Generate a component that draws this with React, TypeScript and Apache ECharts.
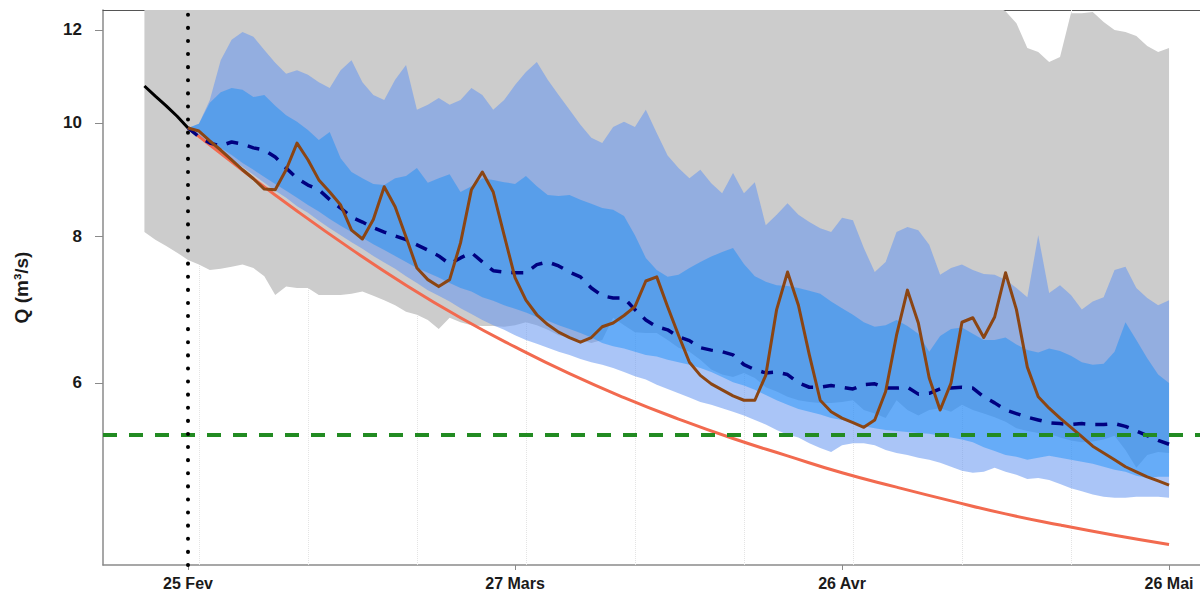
import { useEffect, useRef } from "react";
import * as echarts from "echarts";

// Day 0 = 25 Feb (start of the forecast). Flows in m3/s.
const OBS_DAYS = [-4, -3, -2, -1, 0];
const OBS_Q = [10.75, 10.54, 10.34, 10.13, 9.9];

const ENVELOPE_DAYS = Array.from({ length: 95 }, (_, i) => i - 4);
const FORECAST_DAYS = Array.from({ length: 91 }, (_, i) => i);
const RECESSION_DAYS = Array.from({ length: 19 }, (_, i) => i * 5);

// Historical min / max envelope (grey)
const ENV_LOW = [
  8.07, 7.95, 7.85, 7.75,
  7.64, 7.57, 7.49, 7.51, 7.54, 7.57, 7.52, 7.4, 7.13, 7.25,
  7.23, 7.23, 7.13, 7.13, 7.13, 7.15, 7.18, 7.12, 7.06, 6.99,
  6.9, 6.86, 6.79, 6.67, 6.82, 6.76, 6.72, 6.71, 6.71, 6.7,
  6.72, 6.76, 6.72, 6.66, 6.59, 6.56, 6.53, 6.49, 6.53, 6.82,
  6.72, 6.63, 6.62, 6.62, 6.53, 6.43, 6.38, 6.28, 6.16, 6.1,
  6.07, 6.12, 6.06, 5.95, 5.9, 5.84, 5.8, 5.78, 5.77, 5.77,
  5.78, 5.8, 5.69, 5.65, 5.6, 5.8, 5.69, 5.63, 5.69, 5.71,
  5.67, 5.75, 5.69, 5.65, 5.61, 5.56, 5.49, 5.46, 5.44, 5.43,
  5.39, 5.36, 5.34, 5.35, 5.37, 5.41, 5.26, 5.08, 5.21, 5.24, 5.23,
];
const ENV_HIGH = [
  13.0, 13.0, 13.0, 13.0,
  13.0, 13.0, 13.0, 13.0, 13.0, 13.0, 13.0, 13.0, 13.0, 13.0,
  13.0, 13.0, 13.0, 13.0, 13.0, 13.0, 13.0, 13.0, 13.0, 13.0,
  13.0, 13.0, 13.0, 13.0, 13.0, 13.0, 13.0, 13.0, 13.0, 13.0,
  13.0, 13.0, 13.0, 13.0, 13.0, 13.0, 13.0, 13.0, 13.0, 13.0,
  13.0, 13.0, 13.0, 13.0, 13.0, 13.0, 13.0, 13.0, 13.0, 13.0,
  13.0, 13.0, 13.0, 13.0, 13.0, 13.0, 13.0, 13.0, 13.0, 13.0,
  13.0, 13.0, 13.0, 13.0, 13.0, 13.0, 13.0, 13.0, 13.0, 13.0,
  13.0, 13.0, 13.0, 13.0, 12.6, 12.45, 12.16, 11.58, 11.49, 11.27,
  11.38, 12.4, 12.4, 12.43, 12.19, 12.0, 11.95, 11.86, 11.63, 11.49, 11.58,
];

// Wide forecast band
const OUTER_LOW = [
  9.9, 9.73, 9.57, 9.43, 9.3, 9.17, 9.03, 8.89, 8.75, 8.63,
  8.49, 8.38, 8.25, 8.13, 8.02, 7.91, 7.81, 7.7, 7.6, 7.51,
  7.4, 7.3, 7.2, 7.12, 7.04, 6.95, 6.87, 6.79, 6.72, 6.66,
  6.59, 6.53, 6.48, 6.43, 6.38, 6.34, 6.29, 6.25, 6.22, 6.18,
  6.13, 6.08, 6.04, 5.98, 5.93, 5.88, 5.83, 5.78, 5.75, 5.71,
  5.67, 5.63, 5.58, 5.53, 5.47, 5.42, 5.39, 5.33, 5.28, 5.24,
  5.31, 5.33, 5.33, 5.31, 5.26, 5.23, 5.21, 5.18, 5.16, 5.13,
  5.09, 5.05, 5.03, 5.04, 5.08, 5.04, 5.01, 4.97, 4.98, 4.96,
  4.92, 4.88, 4.85, 4.82, 4.8, 4.79, 4.79, 4.8, 4.8, 4.8, 4.79,
];
const OUTER_HIGH = [
  9.9, 9.98, 10.46, 11.31, 11.77, 11.95, 11.84, 11.54, 11.25, 11.01,
  11.09, 10.99, 10.83, 10.71, 11.09, 11.31, 10.83, 10.56, 10.46, 10.88,
  11.2, 10.26, 10.36, 10.5, 10.36, 10.46, 10.71, 10.56, 10.26, 10.46,
  10.77, 11.05, 11.27, 10.88, 10.56, 10.26, 9.96, 9.71, 9.61, 9.92,
  10.02, 9.92, 10.26, 9.8, 9.38, 9.15, 8.97, 9.12, 8.88, 8.71,
  9.06, 8.71, 8.9, 8.18, 8.35, 8.54, 8.35, 8.23, 8.13, 8.07,
  8.3, 8.26, 7.82, 7.46, 7.61, 8.07, 8.15, 8.1, 7.87, 7.42,
  7.52, 7.57, 7.49, 7.43, 7.42, 7.35, 7.23, 7.1, 8.02, 7.16,
  7.27, 7.13, 6.93, 7.04, 7.1, 7.49, 7.54, 7.23, 7.09, 6.99, 7.06,
];

// Narrow forecast band
const INNER_LOW = [
  9.9, 9.82, 9.67, 9.52, 9.39, 9.24, 9.12, 8.99, 8.87, 8.75,
  8.63, 8.51, 8.4, 8.28, 8.17, 8.07, 7.98, 7.88, 7.79, 7.7,
  7.61, 7.52, 7.45, 7.38, 7.3, 7.23, 7.18, 7.1, 7.05, 6.99,
  6.94, 6.89, 6.83, 6.78, 6.72, 6.67, 6.62, 6.56, 6.49, 6.45,
  6.42, 6.38, 6.34, 6.32, 6.28, 6.25, 6.22, 6.18, 6.13, 6.07,
  6.01, 5.97, 5.92, 5.86, 5.8, 5.75, 5.7, 5.67, 5.64, 5.6,
  5.58, 5.55, 5.51, 5.49, 5.47, 5.46, 5.45, 5.44, 5.43, 5.41,
  5.39, 5.37, 5.34, 5.29, 5.25, 5.21, 5.19, 5.16, 5.18, 5.2,
  5.18, 5.16, 5.14, 5.12, 5.09, 5.06, 5.04, 5.0, 4.98, 4.99, 4.99,
];
const INNER_HIGH = [
  9.9, 9.98, 10.4, 10.62, 10.71, 10.67, 10.52, 10.56, 10.34, 10.15,
  10.02, 9.86, 9.67, 9.82, 9.33, 9.08, 8.97, 8.87, 8.85, 8.97,
  9.01, 9.15, 8.89, 8.97, 9.04, 8.73, 8.83, 8.97, 8.94, 8.9,
  8.87, 9.01, 8.83, 8.68, 8.66, 8.68, 8.6, 8.53, 8.46, 8.43,
  8.33, 8.02, 7.67, 7.49, 7.39, 7.42, 7.52, 7.61, 7.69, 7.76,
  7.82, 7.58, 7.4, 7.32, 7.27, 7.26, 7.23, 7.19, 7.15, 7.04,
  6.95, 6.86, 6.76, 6.7, 6.72, 6.79, 6.71, 6.61, 6.38, 6.58,
  6.67, 6.69, 6.61, 6.53, 6.53, 6.56, 6.47, 6.4, 6.37, 6.42,
  6.39, 6.33, 6.25, 6.22, 6.23, 6.38, 6.76, 6.53, 6.3, 6.1, 6.0,
];

// Median forecast
const MEDIAN_Q = [
  9.9, 9.73, 9.61, 9.56, 9.63, 9.59, 9.52, 9.48, 9.35, 9.15,
  8.97, 8.85, 8.77, 8.6, 8.46, 8.31, 8.23, 8.14, 8.07, 8.01,
  7.95, 7.87, 7.79, 7.7, 7.58, 7.67, 7.75, 7.61, 7.48, 7.46,
  7.45, 7.45, 7.57, 7.61, 7.55, 7.46, 7.39, 7.23, 7.12, 7.09,
  7.09, 6.93, 6.79, 6.7, 6.66, 6.57, 6.52, 6.43, 6.4, 6.38,
  6.34, 6.22, 6.16, 6.12, 6.13, 6.1, 6.0, 5.95, 5.95, 5.97,
  5.95, 5.93, 5.98, 5.99, 5.94, 5.94, 5.95, 5.87, 5.88, 5.93,
  5.94, 5.95, 5.94, 5.84, 5.77, 5.69, 5.65, 5.61, 5.58, 5.55,
  5.54, 5.53, 5.54, 5.53, 5.53, 5.54, 5.51, 5.46, 5.41, 5.36, 5.32,
];

// Single deterministic scenario
const SCENARIO_Q = [
  9.9, 9.84, 9.65, 9.48, 9.3, 9.12, 8.96, 8.78, 8.77, 9.12,
  9.61, 9.3, 8.94, 8.73, 8.51, 8.1, 7.96, 8.27, 8.82, 8.48,
  7.99, 7.52, 7.35, 7.25, 7.35, 7.9, 8.77, 9.08, 8.73, 8.02,
  7.38, 7.06, 6.86, 6.73, 6.63, 6.56, 6.5, 6.56, 6.7, 6.75,
  6.85, 6.97, 7.33, 7.39, 6.97, 6.59, 6.25, 6.09, 5.99, 5.92,
  5.85, 5.8, 5.8, 6.09, 6.93, 7.46, 6.99, 6.34, 5.8, 5.67,
  5.6, 5.55, 5.5, 5.58, 5.9, 6.59, 7.2, 6.75, 6.06, 5.69,
  6.0, 6.76, 6.82, 6.56, 6.83, 7.45, 6.93, 6.19, 5.84, 5.71,
  5.6, 5.5, 5.4, 5.3, 5.23, 5.16, 5.09, 5.04, 4.99, 4.95, 4.91,
];

// Pure recession without rain (every 5 days)
const RECESSION_Q = [
  9.9, 9.11, 8.41, 7.8, 7.27, 6.82, 6.44, 6.11, 5.83, 5.59,
  5.38, 5.2, 5.03, 4.89, 4.76, 4.64, 4.54, 4.45, 4.37,
];

const THRESHOLD_Q = 5.4;
const FORECAST_START_DAY = 0;
const GRID_DAYS = [1, 11, 21, 31, 41, 51, 61, 71, 81];
const X_TICK_DAYS = [0, 30, 60, 90];
const X_TICK_LABELS = ["25 Fev", "27 Mars", "26 Avr", "26 Mai"];
const Y_TICKS = [6, 8, 10, 12];
const X_RANGE = [-7.8, 92.84];
const Q_RANGE = [4.197, 12.48];

const FONT = '"Liberation Sans", Arial, Helvetica, sans-serif';
const ln = Math.log;
const toPoints = (days: number[], q: number[]) => days.map((d, i) => [d, ln(q[i])]);

// A filled band between two curves, drawn as one polygon through the cartesian scales.
function band(days: number[], lo: number[], hi: number[], color: string, z: number) {
  return {
    type: "custom",
    coordinateSystem: "cartesian2d",
    clip: true,
    silent: true,
    z,
    data: days.map((d, i) => [d, ln(lo[i]), ln(hi[i])]),
    encode: { x: 0, y: [1, 2] },
    renderItem: (params: any, api: any) => {
      if (params.dataIndex !== 0) return null;
      const upper = days.map((d, i) => api.coord([d, ln(hi[i])]));
      const lower = days.map((d, i) => api.coord([d, ln(lo[i])])).reverse();
      return {
        type: "polygon",
        shape: { points: upper.concat(lower) },
        style: { fill: color, stroke: "none" },
      };
    },
  };
}

function markerSeries(z: number, markLine: any) {
  return {
    type: "line",
    data: [],
    z,
    silent: true,
    markLine: {
      silent: true,
      z,
      symbol: ["none", "none"],
      label: { show: false },
      animation: false,
      ...markLine,
    },
  };
}

export default function App() {
  const ref = useRef<HTMLDivElement>(null);

  useEffect(() => {
    if (!ref.current) return;
    const chart = echarts.init(ref.current, undefined, { renderer: "svg" });

    const labelStyle = { fontFamily: FONT, fontWeight: "bold", fontSize: 17, color: "#1a1a1a" };

    chart.setOption({
      animation: false,
      textStyle: { fontFamily: FONT },
      grid: { left: 103, right: 0, top: 10, bottom: 28 },
      xAxis: [
        {
          type: "value",
          min: X_RANGE[0],
          max: X_RANGE[1],
          axisLine: { onZero: false, lineStyle: { color: "#8a8a8a", width: 1.5 } },
          axisTick: { customValues: X_TICK_DAYS, length: 5, lineStyle: { color: "#8a8a8a" } },
          axisLabel: {
            ...labelStyle,
            fontSize: 16,
            customValues: X_TICK_DAYS,
            margin: 10,
            formatter: (v: number) => X_TICK_LABELS[X_TICK_DAYS.indexOf(Math.round(v))] ?? "",
          },
          splitLine: { show: false },
        },
        {
          type: "value",
          position: "top",
          min: X_RANGE[0],
          max: X_RANGE[1],
          axisLine: { onZero: false, lineStyle: { color: "#555", width: 1 } },
          axisTick: { show: false },
          axisLabel: { show: false },
          splitLine: { show: false },
        },
      ],
      yAxis: {
        type: "value",
        min: ln(Q_RANGE[0]),
        max: ln(Q_RANGE[1]),
        name: "Q (m³/s)",
        nameLocation: "middle",
        nameGap: 72,
        nameTextStyle: { fontFamily: FONT, fontWeight: "bold", fontSize: 19, color: "#1a1a1a" },
        axisLine: { show: true, onZero: false, lineStyle: { color: "#8a8a8a", width: 1.5 } },
        axisTick: { show: true, customValues: Y_TICKS.map(ln), length: 8, lineStyle: { color: "#8a8a8a" } },
        axisLabel: {
          ...labelStyle,
          customValues: Y_TICKS.map(ln),
          margin: 21,
          formatter: (v: number) => String(Math.round(Math.exp(v))),
        },
        splitLine: { show: false },
      },
      series: [
        markerSeries(1, {
          lineStyle: { color: "#e4e4e4", width: 1, type: "dotted" },
          data: GRID_DAYS.map((d) => ({ xAxis: d })),
        }),
        band(ENVELOPE_DAYS, ENV_LOW, ENV_HIGH, "#cccccc", 2),
        band(FORECAST_DAYS, OUTER_LOW, OUTER_HIGH, "rgba(100,150,240,0.55)", 3),
        band(FORECAST_DAYS, INNER_LOW, INNER_HIGH, "rgba(0,134,250,0.4)", 4),
        {
          type: "line",
          data: toPoints(RECESSION_DAYS, RECESSION_Q),
          smooth: true,
          symbol: "none",
          lineStyle: { color: "#f26a4f", width: 3 },
          silent: true,
          z: 5,
        },
        {
          type: "line",
          data: toPoints(OBS_DAYS, OBS_Q),
          symbol: "none",
          lineStyle: { color: "#000000", width: 3 },
          silent: true,
          z: 5,
        },
        {
          type: "line",
          data: toPoints(FORECAST_DAYS, MEDIAN_Q),
          symbol: "none",
          lineStyle: { color: "#000080", width: 3.5, type: [12, 10] },
          silent: true,
          z: 6,
        },
        {
          type: "line",
          data: toPoints(FORECAST_DAYS, SCENARIO_Q),
          symbol: "none",
          lineStyle: { color: "#8b4513", width: 3, join: "round" },
          silent: true,
          z: 7,
        },
        markerSeries(10, {
          lineStyle: { color: "#228b22", width: 4, type: [14, 12] },
          data: [{ yAxis: ln(THRESHOLD_Q) }],
        }),
        markerSeries(11, {
          lineStyle: { color: "#000000", width: 4, type: [0.1, 13], cap: "round" },
          data: [{ xAxis: FORECAST_START_DAY }],
        }),
      ],
    });

    return () => chart.dispose();
  }, []);

  return (
    <div
      ref={ref}
      style={{ position: "absolute", left: 0, top: 0, width: 1200, height: 593, background: "#fff" }}
    />
  );
}
